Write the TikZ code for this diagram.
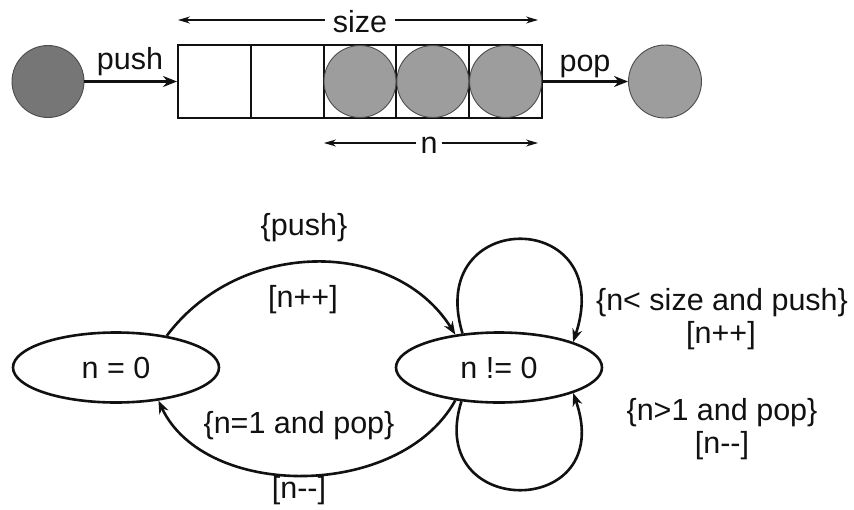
\documentclass[tikz,border=0pt]{standalone}
\usepackage{fontspec}
\setmainfont{Liberation Sans}
\usetikzlibrary{arrows.meta,shapes.geometric}
\definecolor{ballgray}{HTML}{9D9D9D}
\definecolor{darkball}{HTML}{767676}
\definecolor{inkc}{HTML}{111111}
\begin{document}
\begin{tikzpicture}[x=1pt,y=-1pt,
  lbl/.style={font=\fontsize{30.5}{36}\selectfont, text=inkc, inner sep=0pt, anchor=base},
  cell/.style={draw=inkc, line width=2pt, minimum width=72.8pt, minimum height=73pt, inner sep=0pt},
  ball/.style={circle, draw=black!70, line width=0.9pt, fill=ballgray, minimum size=72pt, inner sep=0pt},
  darkballst/.style={ball, fill=darkball},
  state/.style={ellipse, draw=inkc, line width=2.6pt, minimum width=206pt, minimum height=70pt, inner sep=0pt,
    font=\fontsize{30.5}{36}\selectfont, text=inkc},
  tr/.style={draw=inkc, line width=2.6pt, -{Stealth[length=13pt,width=10pt]}},
  thickarr/.style={draw=inkc, line width=3pt, -{Stealth[length=14pt,width=11pt]}},
  thinarr/.style={draw=inkc, line width=1.2pt, -{Stealth[length=12pt,width=7pt]}}
]
\useasboundingbox (0,0) rectangle (854,509);

% queue
\node[cell] (b1) at (214.4,81.5) {};
\node[cell] (b2) at (287.2,81.5) {};
\node[cell] (b3) at (360.0,81.5) {};
\node[cell] (b4) at (432.8,81.5) {};
\node[cell] (b5) at (505.6,81.5) {};
\node[ball] (c3) at (b3) {};
\node[ball] (c4) at (b4) {};
\node[ball] (c5) at (b5) {};
\node[darkballst] (inC) at (48,81.5) {};
\node[ball, minimum size=73pt] (outC) at (665,81.5) {};

\draw[thickarr] (inC) -- (b1);
\draw[thickarr] (b5) -- (outC);
\node[lbl] (pushT) at (130,69) {push};
\node[lbl] (popT) at (585,71) {pop};

% size and n arrows
\coordinate (sizeL) at (178,20);
\coordinate (sizeR) at (538,20);
\node[lbl, inner xsep=8pt] (sizeT) at (360,32) {size};
\draw[thinarr] (sizeT.west |- sizeL) -- (sizeL);
\draw[thinarr] (sizeT.east |- sizeR) -- (sizeR);

\coordinate (nL) at (324,143);
\coordinate (nR) at (538,143);
\node[lbl, inner xsep=4pt] (nT) at (429,153) {n};
\draw[thinarr] (nT.west |- nL) -- (nL);
\draw[thinarr] (nT.east |- nR) -- (nR);

% state machine
\node[state] (s1) at (116,367.5) {n = 0};
\node[state] (s2) at (499,367.5) {n != 0};

\draw[tr] (s1.32) .. controls (240,238) and (395,238) .. (s2.143);
\draw[tr] (s2.217) .. controls (400,500) and (205,500) .. (s1.-38);
\draw[tr] (s2.137) .. controls (424,207) and (618,207) .. (s2.19);
\draw[tr] (s2.222) .. controls (424,520) and (618,520) .. (s2.-19);

\node[lbl] (pushL) at (304,235) {\{push\}};
\node[lbl] (incL) at (303,307) {[n++]};
\node[lbl] (popL) at (299,433) {\{n=1 and pop\}};
\node[lbl] (decL) at (299,498) {[n-{}-]};
\node[lbl] (loopA) at (722,310) {\{n< size and push\}};
\node[lbl] (loopAi) at (721,343) {[n++]};
\node[lbl] (loopB) at (722,420) {\{n>1 and pop\}};
\node[lbl] (loopBd) at (722,453) {[n-{}-]};
\end{tikzpicture}
\end{document}
